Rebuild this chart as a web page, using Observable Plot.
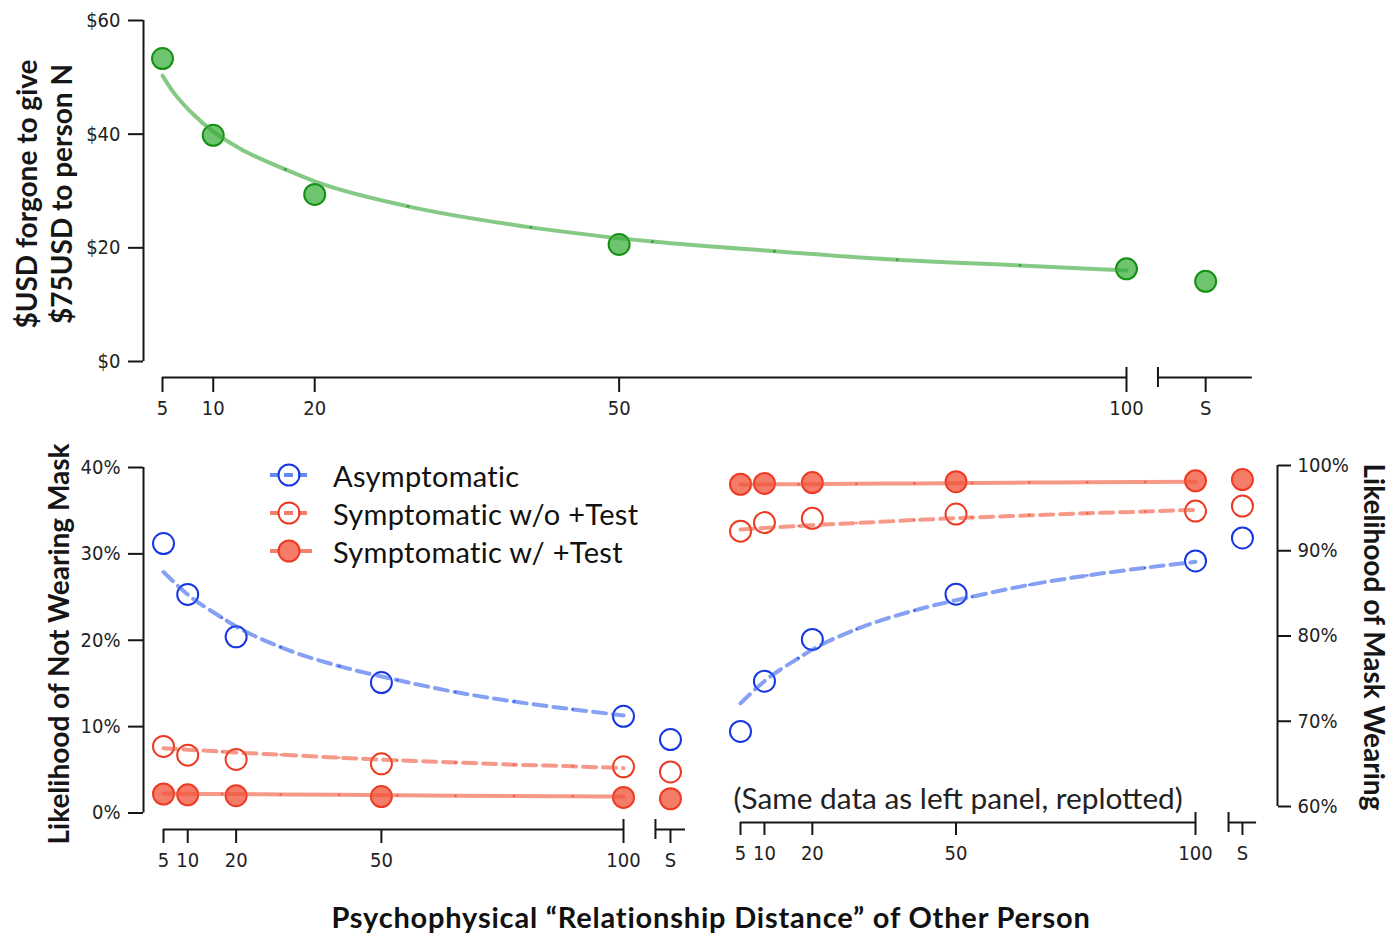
<!DOCTYPE html>
<html><head><meta charset="utf-8">
<script src="https://cdn.jsdelivr.net/npm/d3@7"></script>
<script src="https://cdn.jsdelivr.net/npm/@observablehq/plot@0.6"></script>
<style>
html,body{margin:0;padding:0;background:#fff;}
#chart{position:relative;width:1398px;height:934px;overflow:hidden;background:#fff;}
#chart > svg{position:absolute;}
.legend-row{position:absolute;left:268px;height:38px;display:flex;align-items:center;font-family:Lato,"Open Sans",sans-serif;font-size:29px;letter-spacing:0.3px;color:#111;white-space:nowrap;}
.legend-row svg{display:block;margin-right:19px;}
#xtitle{position:absolute;left:0;width:1422px;top:900px;text-align:center;font-family:Lato,"Open Sans",sans-serif;font-weight:bold;font-size:29px;letter-spacing:0.8px;color:#111;line-height:34px;}
</style>
</head><body><div id="chart"></div>
<script>
// ---------- data ----------
const distances = [5, 10, 20, 50, 100];
const selfLabel = "S";
const moneyForgone = [53.3, 39.8, 29.4, 20.6, 16.3];
const moneyForgoneSelf = 14.1;
const moneyFitX = [5, 6.1, 7.8, 10.1, 12.7, 17.1, 20, 29.2, 41.3, 53.3, 65.3, 77.4, 89.5, 100];
const moneyFitY = [50.3, 47.3, 43.9, 40.3, 37.4, 33.8, 31.7, 27.3, 23.6, 21.1, 19.4, 17.9, 16.9, 16.0];
const fitSampleX = [17.1, 29.2, 41.3, 53.3, 65.3, 77.4, 89.5];

const series = ["Asymptomatic", "Symptomatic w/o +Test", "Symptomatic w/ +Test"];
const notMaskAsym = [31.2, 25.3, 20.4, 15.1, 11.2];
const notMaskSymNoTest = [7.7, 6.7, 6.2, 5.7, 5.35];
const notMaskSymTest = [2.2, 2.1, 2.0, 1.9, 1.8];
const notMaskSelf = [8.5, 4.75, 1.65];
const maskFitX = [5, 10, 17.1, 20, 29.2, 41.3, 53.3, 65.3, 77.4, 89.5, 100];
const fitAsym = [27.9, 25.3, 22.6, 21.6, 19.2, 17.0, 15.4, 14.0, 12.9, 12.0, 11.3];
const fitSymNoTest = [7.5, 7.33, 7.1, 7.0, 6.75, 6.4, 6.1, 5.85, 5.6, 5.4, 5.2];
const fitSymTest = [2.25, 2.22, 2.2, 2.19, 2.15, 2.1, 2.05, 2.0, 1.97, 1.93, 1.9];

const moneyTicks = [0, 20, 40, 60];
const notMaskTicks = [0, 10, 20, 30, 40];
const maskTicks = [60, 70, 80, 90, 100];

// ---------- layout / style ----------
const INK = "#161616";
const TICK_FONT = "'Liberation Sans Narrow','DejaVu Sans Condensed','Roboto Condensed',Roboto,sans-serif";
const TITLE_FONT = "Lato,'Open Sans',sans-serif";
const COL = {
  greenFill: "#6fc46f", greenStroke: "#129012", greenLine: "#3aa83a",
  blue: "#1636e4", blueLine: "#3560ec",
  red: "#ee3a22", redFill: "#f47c68", redLine: "#f0553a"
};
const seriesStyle = [
  {stroke: COL.blue, fill: "none", line: COL.blueLine, dash: "13,7"},
  {stroke: COL.red, fill: "none", line: COL.redLine, dash: "13,7"},
  {stroke: COL.red, fill: COL.redFill, line: COL.redLine, dash: null}
];
// x-position of the "S" (self) category and axis-break per panel
const panels = {
  top: {self: 107.8, brk: 103.1, end: 112.4},
  left: {self: 109.7, brk: 106.6, end: 112.8},
  right: {self: 109.8, brk: 106.9, end: 112.75}
};
const svgStyle = {background: "transparent", overflow: "visible", fontFamily: TICK_FONT, fontSize: "20px",
  fontWeight: 300, color: INK};

const chart = document.getElementById("chart");
function place(svg, left, top) { svg.style.left = left + "px"; svg.style.top = top + "px"; chart.appendChild(svg); }
const fmtTick = (p) => (d) => d === p.self ? selfLabel : String(d);

function xAxisMarks(p, yBase, dy, tickSize, tickPadding) {
  return [
    Plot.ruleY([yBase], {x1: 5, x2: 100, dy, stroke: INK, strokeWidth: 2}),
    Plot.ruleY([yBase], {x1: p.brk, x2: p.end, dy, stroke: INK, strokeWidth: 2}),
    Plot.axisX({ticks: [...distances, p.self], tickFormat: fmtTick(p), tickSize, tickPadding,
      label: null, stroke: INK, strokeWidth: 2, fontSize: 20, fill: "#222"}),
    Plot.ruleX([100], {y1: yBase, y2: yBase, dy, insetTop: -10, stroke: INK, strokeWidth: 2}),
    Plot.ruleX([p.brk], {y1: yBase, y2: yBase, dy, insetTop: -10, insetBottom: -10, stroke: INK, strokeWidth: 2})
  ];
}
const titleOpts = {textAnchor: "middle", lineAnchor: "middle", fontSize: 28, fontWeight: "bold",
  fontFamily: TITLE_FONT, fill: INK};

// ---------- top panel ----------
{
  const p = panels.top;
  const pts = distances.map((d, i) => ({x: d, v: moneyForgone[i]})).concat([{x: p.self, v: moneyForgoneSelf}]);
  const fit = moneyFitX.map((x, i) => ({x, v: moneyFitY[i]}));
  const fitDots = fit.filter(d => fitSampleX.includes(d.x));
  const svg = Plot.plot({
    width: 1398, height: 430,
    marginLeft: 143, marginRight: 146, marginTop: 20, marginBottom: 53,
    x: {domain: [5, 100], range: [162, 1126], label: null},
    y: {domain: [0, 60], range: [361, 20], label: null},
    style: svgStyle,
    marks: [
      Plot.ruleX([5], {y1: 0, y2: 60, dx: -19, stroke: INK, strokeWidth: 2}),
      Plot.axisY({ticks: moneyTicks, tickFormat: d => "$" + d, tickSize: 15, tickPadding: 8, label: null,
        stroke: INK, strokeWidth: 2, fontSize: 20, fill: "#222"}),
      ...xAxisMarks(p, 0, 16, 15, 8),
      Plot.dot(pts, {x: "x", y: "v", r: 10.5, fill: COL.greenFill, stroke: COL.greenStroke, strokeWidth: 2}),
      Plot.line(fit, {x: "x", y: "v", stroke: COL.greenLine, strokeOpacity: 0.62, strokeWidth: 4, curve: "monotone-x"}),
      Plot.dot(fitDots, {x: "x", y: "v", r: 1.4, fill: "#2b8f2b", fillOpacity: 0.8}),
      Plot.text(["$USD forgone to give\n$75USD to person N"], {...titleOpts, frameAnchor: "left", rotate: -90,
        dx: -100.5, dy: -5, lineHeight: 1.26})
    ]
  });
  place(svg, 0, 0);
}

// ---------- bottom panels ----------
function seriesRows(p, transform) {
  const vals = [notMaskAsym, notMaskSymNoTest, notMaskSymTest];
  return vals.map((arr, s) => distances.map((d, i) => ({x: d, v: transform(arr[i]), s}))
    .concat([{x: p.self, v: transform(notMaskSelf[s]), s}]));
}
function fitRows(transform) {
  const fits = [fitAsym, fitSymNoTest, fitSymTest];
  return fits.map((arr, s) => maskFitX.map((x, i) => ({x, v: transform(arr[i]), s})));
}
function dataMarks(p, transform) {
  const rows = seriesRows(p, transform);
  const fits = fitRows(transform);
  const marks = [];
  rows.forEach((r, s) => marks.push(Plot.dot(r, {x: "x", y: "v", r: 10.5, fill: seriesStyle[s].fill,
    stroke: seriesStyle[s].stroke, strokeWidth: 2})));
  fits.forEach((f, s) => {
    marks.push(Plot.line(f, {x: "x", y: "v", stroke: seriesStyle[s].line, strokeOpacity: 0.6, strokeWidth: 4,
      strokeDasharray: seriesStyle[s].dash, curve: "monotone-x"}));
    marks.push(Plot.dot(f.filter(d => fitSampleX.includes(d.x)), {x: "x", y: "v", r: 1.3,
      fill: seriesStyle[s].stroke, fillOpacity: 0.6}));
  });
  return marks;
}

{
  const p = panels.left;
  const svg = Plot.plot({
    width: 700, height: 445,
    marginLeft: 143, marginRight: 15, marginTop: 37, marginBottom: 46,
    x: {domain: [5, 100], range: [163, 623], label: null},
    y: {domain: [0, 40], range: [382.5, 37], label: null},
    style: svgStyle,
    marks: [
      Plot.ruleX([5], {y1: 0, y2: 40, dx: -20, stroke: INK, strokeWidth: 2}),
      Plot.axisY({ticks: notMaskTicks, tickFormat: d => d + "%", tickSize: 15, tickPadding: 8, label: null,
        stroke: INK, strokeWidth: 2, fontSize: 20, fill: "#222"}),
      ...xAxisMarks(p, 0, 16.5, 14, 9),
      ...dataMarks(p, v => v),
      Plot.text(["Likelihood of Not Wearing Mask"], {...titleOpts, frameAnchor: "left", rotate: -90, dx: -83, dy: -4.5})
    ]
  });
  place(svg, 0, 430);
}

{
  const p = panels.right;
  const svg = Plot.plot({
    width: 698, height: 445,
    marginLeft: 20, marginRight: 121, marginTop: 35, marginBottom: 53,
    x: {domain: [5, 100], range: [40, 495], label: null},
    y: {domain: [60, 100], range: [376, 35], label: null},
    style: svgStyle,
    marks: [
      Plot.ruleX([100], {y1: 60, y2: 100, dx: 82, stroke: INK, strokeWidth: 2}),
      Plot.axisY({anchor: "right", ticks: maskTicks, tickFormat: d => d + "%", tickSize: 13, tickPadding: 7, label: null,
        stroke: INK, strokeWidth: 2, fontSize: 20, fill: "#222"}),
      ...xAxisMarks(p, 60, 16, 13, 10),
      ...dataMarks(p, v => 100 - v),
      Plot.text(["(Same data as left panel, replotted)"], {frameAnchor: "bottom-left", dx: 13, dy: -23,
        textAnchor: "start", lineAnchor: "middle", fontSize: 29.8, fontWeight: 400, fontFamily: TITLE_FONT, fill: "#222"}),
      Plot.text(["Likelihood of Mask Wearing"], {...titleOpts, frameAnchor: "right", rotate: 90, dx: 95, dy: -7})
    ]
  });
  place(svg, 700, 430);
}

// ---------- legend ----------
series.forEach((name, s) => {
  const st = seriesStyle[s];
  const row = document.createElement("div");
  row.className = "legend-row";
  row.style.top = (475 + 38 * s - 19) + "px";
  const dash = st.dash ? ' stroke-dasharray="9,5"' : "";
  row.innerHTML = `<svg width="46" height="30" viewBox="0 0 46 30">
    <line x1="2" x2="44" y1="15" y2="15" stroke="${st.line}" stroke-opacity="0.75" stroke-width="4"${dash}/>
    <circle cx="21" cy="15" r="10.5" fill="${st.fill}" stroke="${st.stroke}" stroke-width="2"/></svg><span></span>`;
  row.querySelector("span").textContent = name;
  chart.appendChild(row);
});

const xt = document.createElement("div");
xt.id = "xtitle";
xt.textContent = "Psychophysical \u201cRelationship Distance\u201d of Other Person";
chart.appendChild(xt);
</script></body></html>
